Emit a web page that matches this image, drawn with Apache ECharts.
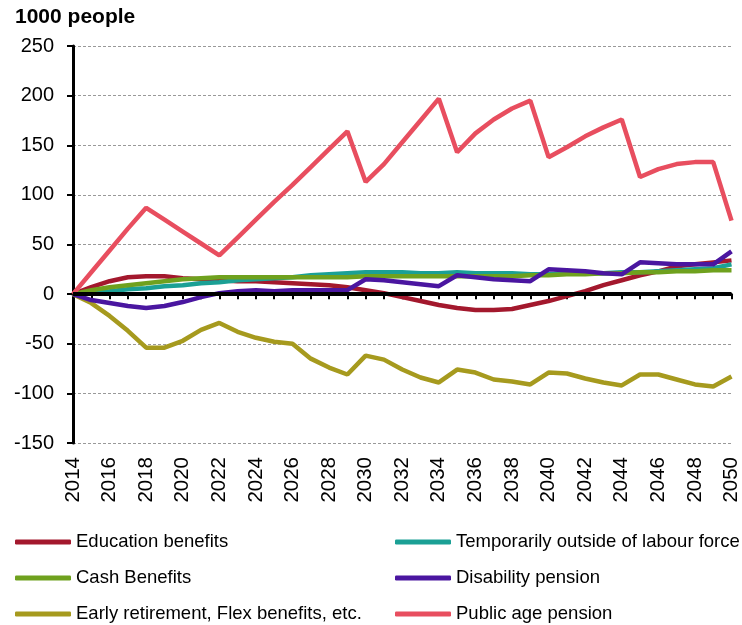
<!DOCTYPE html>
<html>
<head>
<meta charset="utf-8" />
<title>1000 people</title>
<script type="text/javascript" src="https://cdn.jsdelivr.net/npm/echarts@6/dist/echarts.min.js"></script>
<style type="text/css">
html, body {
	width: 100%;
	height: 100%;
	margin: 0;
	background: #fff;
}
#main {
	width: 742px;
	height: 625px;
}
</style>
</head>
<body>
<div id="main"></div>
<script type="text/javascript">
var years = [];
for (var y = 2014; y <= 2050; y++) {
    years.push(String(y));
}

var yTicks = [-150, -100, -50, 0, 50, 100, 150, 200, 250];

// 2014 ... 2050 (1000 people)
var education = [0, 7, 13, 17, 18, 18, 16, 15, 14, 13, 13, 12, 11, 10, 9, 7, 4, 1, -3, -7, -11, -14, -16, -16, -15, -11, -7, -2, 3, 9, 14, 19, 23, 28, 30, 32, 34];
var temporary = [0, 2, 3, 5, 6, 8, 9, 11, 12, 14, 15, 16, 17, 19, 20, 21, 22, 22, 22, 21, 21, 22, 21, 21, 21, 20, 20, 21, 21, 21, 22, 22, 23, 24, 25, 26, 30];
var cash = [0, 4, 7, 9, 11, 13, 15, 16, 17, 17, 17, 17, 17, 17, 17, 17, 18, 18, 18, 18, 18, 18, 18, 18, 18, 19, 19, 20, 20, 21, 21, 22, 22, 23, 23, 24, 24];
var earlyRetirement = [0, -9, -22, -37, -54, -54, -47, -36, -29, -38, -44, -48, -50, -65, -74, -81, -62, -66, -76, -84, -89, -76, -79, -86, -88, -91, -79, -80, -85, -89, -92, -81, -81, -86, -91, -93, -83];
var disability = [0, -6, -9, -12, -14, -12, -8, -3, 1, 3, 4, 3, 4, 4, 4, 4, 15, 14, 12, 10, 8, 19, 17, 15, 14, 13, 25, 24, 23, 21, 20, 32, 31, 30, 30, 30, 43];
var publicPension = [0, 22, 44, 66, 87, 75, 63, 51, 39, 57, 75, 93, 110, 128, 146, 164, 113, 131, 153, 175, 197, 143, 162, 176, 187, 195, 138, 148, 159, 168, 176, 118, 126, 131, 133, 133, 74];

var names = [
    'Education benefits',
    'Temporarily outside of labour force',
    'Cash Benefits',
    'Early retirement, Flex benefits, etc.',
    'Disability pension',
    'Public age pension'
];
var colors = ['#a3182d', '#1ba095', '#6fa11e', '#a69a1e', '#4a16a0', '#e84e5f'];
var values = [education, temporary, cash, earlyRetirement, disability, publicPension];

var font = 'Liberation Sans, Arial, sans-serif';
var chart = echarts.init(document.getElementById('main'), null, { renderer: 'canvas' });

var series = names.map(function (n, i) {
    var s = {
        name: n,
        type: 'line',
        data: values[i],
        symbol: 'none',
        smooth: false,
        lineStyle: { color: colors[i], width: 4.5 },
        itemStyle: { color: colors[i] }
    };
    if (i === names.length - 1) {
        s.markLine = {
            silent: true,
            symbol: 'none',
            label: { show: false },
            lineStyle: { color: '#000', width: 4, type: 'solid' },
            data: [{ yAxis: 0 }]
        };
    }
    return s;
});

var legendStyle = {
    orient: 'vertical',
    icon: 'roundRect',
    padding: 0,
    itemWidth: 56,
    itemHeight: 5,
    itemGap: 16,
    selectedMode: false,
    textStyle: { fontFamily: font, fontSize: 18.5, color: '#000', lineHeight: 20 }
};

var option = {
    animation: false,
    backgroundColor: '#fff',
    graphic: [{
        type: 'text',
        left: 15,
        top: 7,
        style: {
            text: '1000 people',
            font: 'bold 21px ' + font,
            fill: '#000'
        }
    }],
    legend: [
        Object.assign({ left: 15, top: 532, height: 93, data: [names[0], names[2], names[3]] }, legendStyle),
        Object.assign({ left: 395, top: 532, height: 93, data: [names[1], names[4], names[5]] }, legendStyle)
    ],
    grid: { left: 73, right: 7, top: 46, bottom: 182, containLabel: false },
    xAxis: {
        type: 'category',
        data: years,
        boundaryGap: false,
        axisLine: { lineStyle: { color: '#000', width: 3 } },
        axisTick: { show: true, interval: 0, length: 5, lineStyle: { color: '#000', width: 2 } },
        axisLabel: {
            interval: 1,
            rotate: 90,
            margin: 14,
            fontFamily: font,
            fontSize: 20.5,
            color: '#000'
        },
        splitLine: { show: false }
    },
    yAxis: {
        type: 'value',
        min: yTicks[0],
        max: yTicks[yTicks.length - 1],
        interval: 50,
        axisLine: { show: true, lineStyle: { color: '#000', width: 3 } },
        axisTick: { show: true, length: 6, lineStyle: { color: '#000', width: 2 } },
        axisLabel: {
            margin: 19,
            fontFamily: font,
            fontSize: 20,
            color: '#000'
        },
        splitLine: { show: true, lineStyle: { color: '#999', width: 1, type: [3, 2] } }
    },
    series: series
};

chart.setOption(option);
</script>
</body>
</html>
